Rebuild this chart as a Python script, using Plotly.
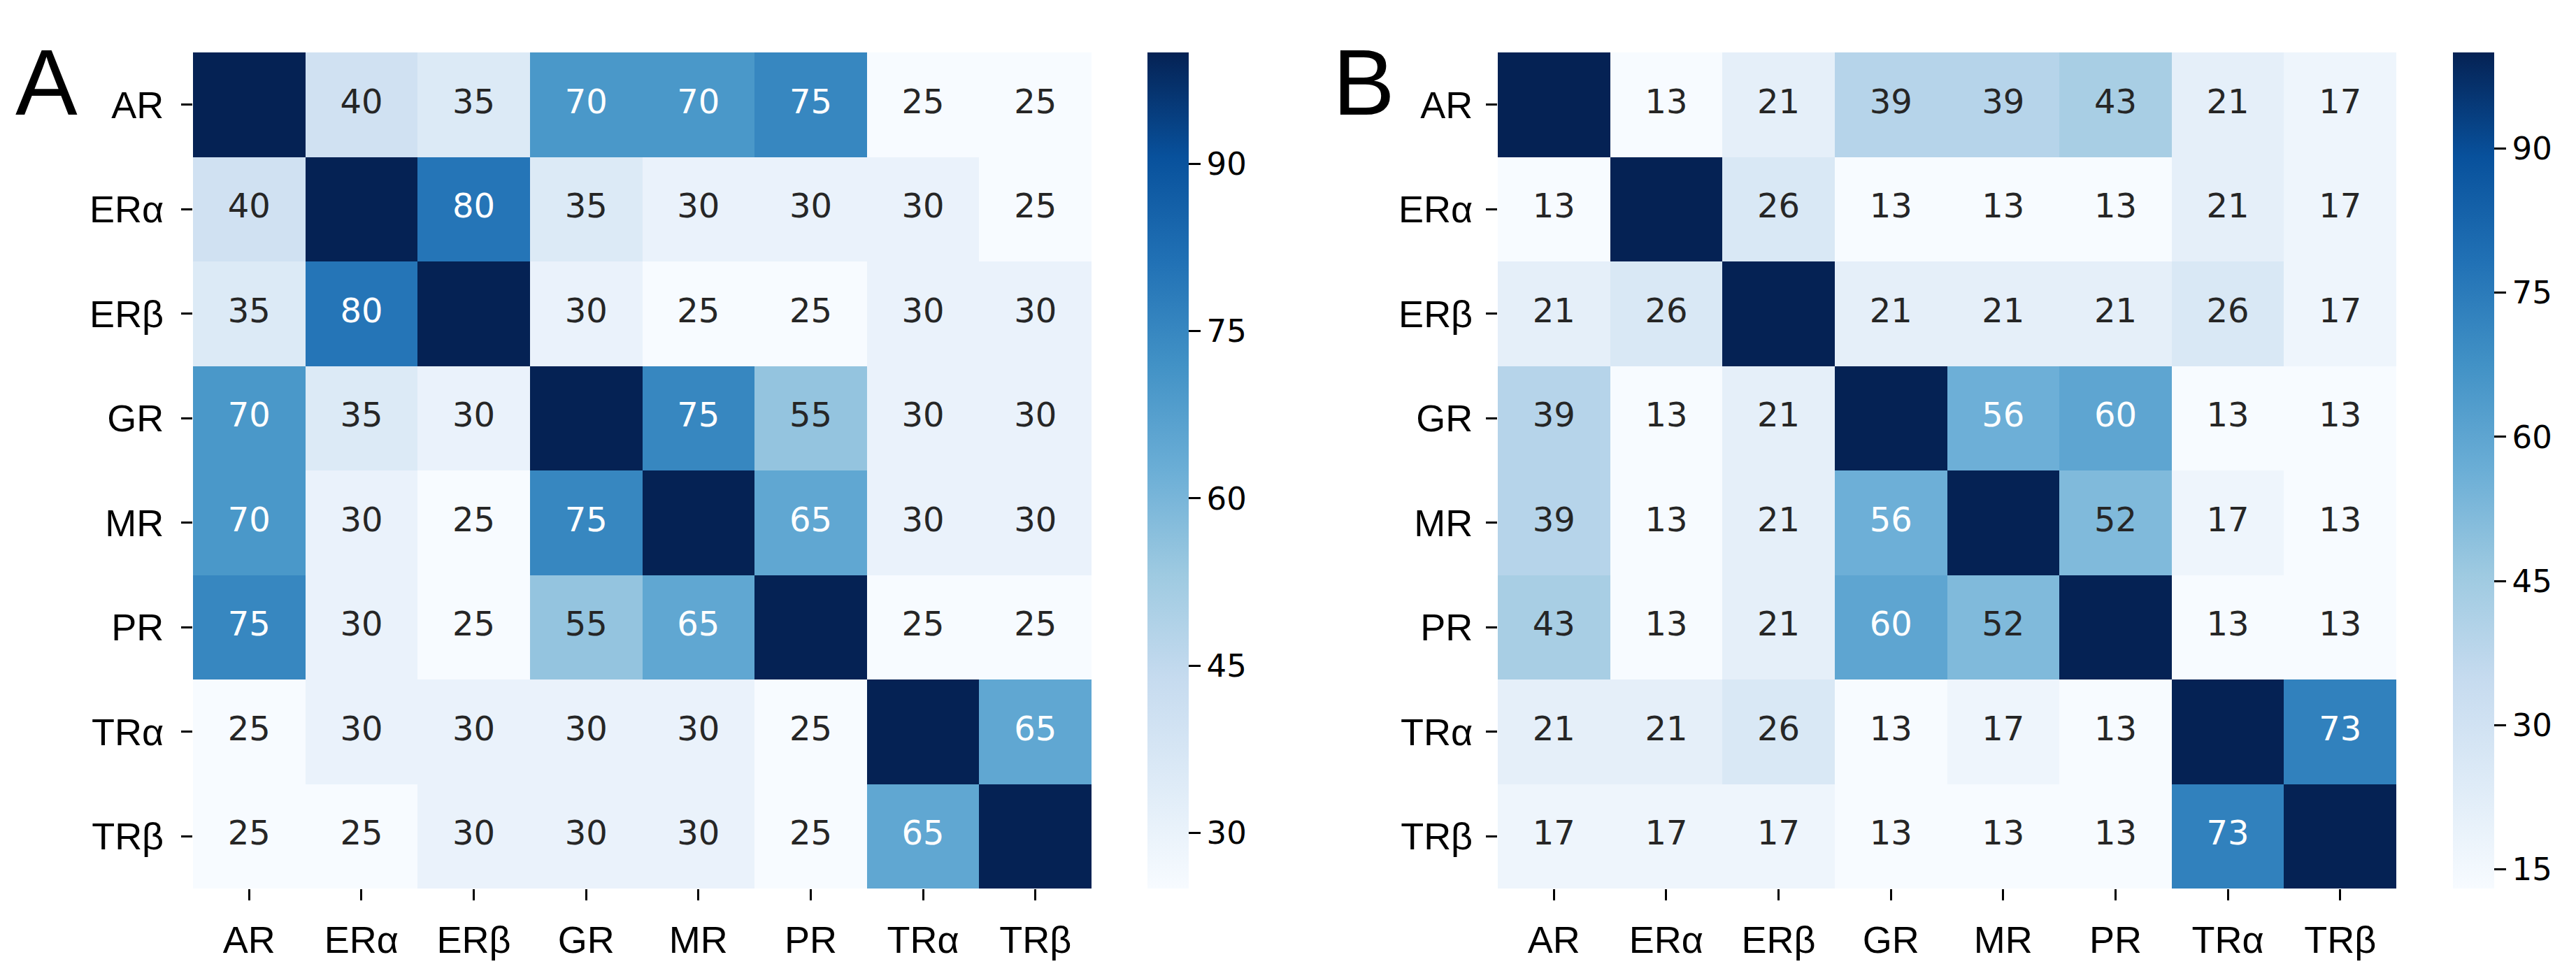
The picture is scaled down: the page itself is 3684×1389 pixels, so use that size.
import numpy as np
import plotly.graph_objects as go
import plotly.express as px

W, H = 3684, 1389

receptors = ["AR", "ERα", "ERβ", "GR", "MR", "PR", "TRα", "TRβ"]

# Panel A values (diagonal = 100)
a_AR  = [100, 40, 35, 70, 70, 75, 25, 25]
a_ERa = [40, 100, 80, 35, 30, 30, 30, 25]
a_ERb = [35, 80, 100, 30, 25, 25, 30, 30]
a_GR  = [70, 35, 30, 100, 75, 55, 30, 30]
a_MR  = [70, 30, 25, 75, 100, 65, 30, 30]
a_PR  = [75, 30, 25, 55, 65, 100, 25, 25]
a_TRa = [25, 30, 30, 30, 30, 25, 100, 65]
a_TRb = [25, 25, 30, 30, 30, 25, 65, 100]

# Panel B values (diagonal = 100)
b_AR  = [100, 13, 21, 39, 39, 43, 21, 17]
b_ERa = [13, 100, 26, 13, 13, 13, 21, 17]
b_ERb = [21, 26, 100, 21, 21, 21, 26, 17]
b_GR  = [39, 13, 21, 100, 56, 60, 13, 13]
b_MR  = [39, 13, 21, 56, 100, 52, 17, 13]
b_PR  = [43, 13, 21, 60, 52, 100, 13, 13]
b_TRa = [21, 21, 26, 13, 17, 13, 100, 73]
b_TRb = [17, 17, 17, 13, 13, 13, 73, 100]

a_range = [25, 100]
b_range = [13, 100]
a_ticks = [30, 45, 60, 75, 90]
b_ticks = [15, 30, 45, 60, 75, 90]

matA = [a_AR, a_ERa, a_ERb, a_GR, a_MR, a_PR, a_TRa, a_TRb]
matB = [b_AR, b_ERa, b_ERb, b_GR, b_MR, b_PR, b_TRa, b_TRb]

blues = list(px.colors.sequential.Blues)
blues[-1] = "rgb(5,34,84)"  # darkest end as it appears in the reference
blues_rgb = np.array([[int(v) for v in c[4:-1].split(",")] for c in blues]) / 255.0
stops = np.linspace(0, 1, len(blues))
colorscale = [[float(s), c] for s, c in zip(stops, blues)]


def text_color(v, lo, hi):
    t = (v - lo) / (hi - lo)
    rgb = np.array([np.interp(t, stops, blues_rgb[:, k]) for k in range(3)])
    lin = np.where(rgb <= 0.03928, rgb / 12.92, ((rgb + 0.055) / 1.055) ** 2.4)
    lum = lin.dot([0.2126, 0.7152, 0.0722])
    return "rgb(38,38,38)" if lum > 0.408 else "white"


# pixel geometry
top, bottom = 67, 1263
panels = [
    dict(mat=matA, rng=a_range, ticks=a_ticks, x0=268, x1=1553, cb=1633, label="A", lx=12,
         xa="x", ya="y", xname="xaxis", yname="yaxis", stand=14),
    dict(mat=matB, rng=b_range, ticks=b_ticks, x0=2134, x1=3419, cb=3500, label="B", lx=1896,
         xa="x2", ya="y2", xname="xaxis2", yname="yaxis2", stand=8),
]

fig = go.Figure()
layout = dict(
    width=W, height=H,
    margin=dict(l=0, r=0, t=0, b=0),
    paper_bgcolor="white", plot_bgcolor="white",
    showlegend=False,
    annotations=[],
)

tick_font = dict(family="Liberation Sans, Arial, sans-serif", size=54, color="black")
num_font_family = "DejaVu Sans, sans-serif"

for p in panels:
    lo, hi = p["rng"]
    fig.add_trace(go.Heatmap(
        z=p["mat"], x=receptors, y=receptors,
        xaxis=p["xa"], yaxis=p["ya"],
        colorscale=colorscale, zmin=lo, zmax=hi,
        hoverinfo="skip",
        colorbar=dict(
            x=p["cb"] / W, xanchor="left", xpad=0,
            y=1 - (top + bottom) / 2 / H, yanchor="middle", ypad=0,
            len=(bottom - top) / H, lenmode="fraction",
            thickness=59, thicknessmode="pixels",
            outlinewidth=0,
            tickmode="array", tickvals=p["ticks"],
            ticks="outside", ticklen=17, tickwidth=2.5, tickcolor="black",
            tickfont=dict(family=num_font_family, size=45, color="black"),
        ),
    ))
    xs, ys, txt, cols = [], [], [], []
    for i, row in enumerate(p["mat"]):
        for j, v in enumerate(row):
            if i == j:
                continue
            xs.append(receptors[j])
            ys.append(receptors[i])
            txt.append(str(v))
            cols.append(text_color(v, lo, hi))
    fig.add_trace(go.Scatter(
        x=xs, y=ys, mode="text", text=txt,
        textfont=dict(family=num_font_family, size=48, color=cols),
        xaxis=p["xa"], yaxis=p["ya"], hoverinfo="skip",
    ))
    common = dict(showgrid=False, zeroline=False, showline=False,
                  ticks="outside", ticklen=16, tickwidth=2.5, tickcolor="black",
                  tickfont=tick_font, type="category",
                  categoryorder="array", categoryarray=receptors, fixedrange=True)
    layout[p["xname"]] = dict(domain=[p["x0"] / W, p["x1"] / W], anchor=p["ya"],
                              range=[-0.5, 7.5], ticklabelstandoff=10, **common)
    layout[p["yname"]] = dict(domain=[1 - bottom / H, 1 - top / H], anchor=p["xa"],
                              range=[7.5, -0.5], ticklabelstandoff=p["stand"], **common)
    layout["annotations"].append(dict(
        text=p["label"], x=p["lx"] / W, y=1 - 110 / H, xref="paper", yref="paper",
        xanchor="left", yanchor="middle", showarrow=False,
        font=dict(family="Liberation Sans, Arial, sans-serif", size=133, color="black"),
    ))

fig.update_layout(**layout)
fig.write_html("out.html")
